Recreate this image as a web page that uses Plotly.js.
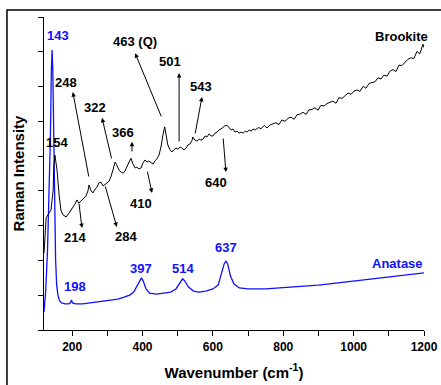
<!DOCTYPE html>
<html>
<head>
<meta charset="utf-8">
<script src="https://cdn.plot.ly/plotly-3.0.1.min.js"></script>
<style>
  html, body { margin: 0; padding: 0; background: #ffffff; }
  #chart { width: 441px; height: 385px; }
</style>
</head>
<body>
<div id="chart"></div>
<script>
// ---------- Data ----------
// Brookite spectrum (black)
const brookiteX = [120,126,131,140,146,148,151,157,163,168,174,183,191,200,208,214,219,225,234,239,245,248,254,259,265,271,276,282,288,293,299,305,310,316,322,327,333,339,345,350,356,362,367,373,379,384,390,396,401,407,413,418,424,430,435,441,447,453,458,463,467,472,478,484,489,495,501,507,512,518,524,529,535,541,543,549,555,561,566,572,578,583,589,595,600,606,612,617,623,629,634,640,646,652,657,663,669,674,680,686,692,697,703,709,714,720,729,737,746,754,763,771,779,788,796,805,814,822,831,839,848,856,865,873,882,890,899,907,916,924,933,941,950,958,967,975,984,993,1001,1010,1018,1027,1035,1044,1052,1061,1069,1078,1086,1095,1103,1112,1120,1129,1137,1146,1154,1163,1171,1180,1188,1197,1200];
const brookiteY = [221,322,331,345,402,474,503,460,388,345,331,325,336,348,362,374,365,371,380,385,400,417,400,394,405,411,423,425,414,417,423,428,440,460,483,474,460,454,451,457,469,483,494,477,466,468,463,466,480,489,483,486,480,477,486,492,503,529,561,584,561,532,518,512,518,523,520,526,523,518,523,532,535,546,555,546,543,549,546,549,558,555,564,558,558,566,569,575,578,584,587,589,581,575,578,569,572,566,569,566,572,569,575,572,578,575,582,579,588,581,590,592,596,591,604,600,609,612,606,619,621,626,620,633,634,639,632,646,644,651,655,658,652,668,666,672,681,678,687,690,686,701,695,709,711,714,725,722,733,730,744,749,743,762,760,771,778,783,780,801,794,822,812];

// Anatase spectrum (blue)
const anataseX = [120,125,130,135,138,141,143,145,147,150,153,156,160,165,170,180,190,195,198,201,210,230,250,270,290,310,330,350,365,375,385,392,397,402,410,420,440,460,480,495,505,514,520,530,545,560,580,600,615,625,632,637,642,650,660,675,700,750,800,850,900,950,1000,1050,1100,1150,1200];
const anataseY = [52,115,230,403,546,748,805,748,575,345,201,129,98,83,78,75,75,78,86,78,75,75,78,80,83,86,89,95,101,109,129,144,150,141,118,106,103,106,109,118,135,147,141,124,112,109,112,118,129,161,190,198,190,155,132,121,118,118,121,124,129,135,141,147,152,158,164];

// Peak labels
const brookiteLabelText = ['154','248','322','366','463 (Q)','501','543','640','410','214','284','Brookite'];
const brookiteLabelX    = [157, 183, 265, 345, 379, 478, 566, 609, 396, 208, 353, 1135];
const brookiteLabelY    = [538, 713, 641, 569, 831, 771, 699, 423, 365, 265, 270, 845];

const anataseLabelText = ['143','198','397','514','637','Anatase'];
const anataseLabelX    = [160, 208, 396, 515, 637, 1126];
const anataseLabelY    = [848, 124, 178, 178, 236, 190];

// Arrows: from the peak (tail) to near the label (head)
const arrowTailX = [248, 313, 370, 455, 504, 549, 629, 413, 219, 293];
const arrowTailY = [437, 489, 509, 610, 538, 561, 555, 460, 368, 417];
const arrowHeadX = [202, 285, 370, 379, 504, 569, 637, 427, 228, 327];
const arrowHeadY = [684, 610, 541, 796, 739, 670, 454, 394, 293, 296];

const xTicks = [200, 400, 600, 800, 1000, 1200];

// ---------- Chart ----------
const FONT = 'Liberation Sans, Arial, Helvetica, sans-serif';
const BLUE = '#1010ff';

const traces = [
  { x: anataseX, y: anataseY, type: 'scatter', mode: 'lines',
    line: { color: BLUE, width: 1.3 }, hoverinfo: 'skip', showlegend: false },
  { x: brookiteX, y: brookiteY, type: 'scatter', mode: 'lines',
    line: { color: '#000000', width: 1 }, hoverinfo: 'skip', showlegend: false }
];

const annotations = [];
brookiteLabelText.forEach((t, i) => annotations.push({
  x: brookiteLabelX[i], y: brookiteLabelY[i], xref: 'x', yref: 'y', text: t,
  showarrow: false, xanchor: 'center', yanchor: 'middle',
  font: { family: FONT, size: 13, color: '#000000', weight: 'bold' }
}));
anataseLabelText.forEach((t, i) => annotations.push({
  x: anataseLabelX[i], y: anataseLabelY[i], xref: 'x', yref: 'y', text: t,
  showarrow: false, xanchor: 'center', yanchor: 'middle',
  font: { family: FONT, size: 13, color: BLUE, weight: 'bold' }
}));
arrowTailX.forEach((tx, i) => annotations.push({
  x: arrowHeadX[i], y: arrowHeadY[i], xref: 'x', yref: 'y',
  ax: tx, ay: arrowTailY[i], axref: 'x', ayref: 'y', text: '',
  showarrow: true, arrowhead: 2, arrowsize: 0.9, arrowwidth: 1, arrowcolor: '#000000',
  standoff: 0, startstandoff: 0
}));

const layout = {
  width: 441, height: 385,
  margin: { l: 44, r: 17, t: 17, b: 55 },
  paper_bgcolor: '#ffffff', plot_bgcolor: '#ffffff',
  font: { family: FONT, color: '#000000' },
  xaxis: {
    range: [120, 1200], tickvals: xTicks, ticks: 'outside', ticklen: 5, tickwidth: 1,
    tickcolor: '#000', showline: true, linecolor: '#000', linewidth: 1.3,
    showgrid: false, zeroline: false,
    minor: { dtick: 100, tick0: 0, ticks: 'outside', ticklen: 5, tickwidth: 1, tickcolor: '#000', showgrid: false },
    tickfont: { family: FONT, size: 12, weight: 'bold', color: '#000' },
    title: { text: 'Wavenumber (cm<sup>-1</sup>)', standoff: 14,
             font: { family: FONT, size: 15, weight: 'bold', color: '#000' } }
  },
  yaxis: {
    range: [0, 900], dtick: 100, tick0: 0, ticks: 'outside', ticklen: 5, tickwidth: 1,
    tickcolor: '#000', showline: true, linecolor: '#000', linewidth: 1.3,
    showgrid: false, zeroline: false, showticklabels: false,
    title: { text: 'Raman Intensity', standoff: 9,
             font: { family: FONT, size: 15, weight: 'bold', color: '#000' } }
  },
  shapes: [{
    type: 'rect', xref: 'paper', yref: 'paper',
    x0: -0.0974, x1: 1.3, y0: -0.4, y1: 1.0224,
    line: { color: '#000000', width: 1.5 }, fillcolor: 'rgba(0,0,0,0)', layer: 'above'
  }],
  annotations: annotations
};

Plotly.newPlot('chart', traces, layout, { displayModeBar: false, staticPlot: true });
</script>
</body>
</html>
